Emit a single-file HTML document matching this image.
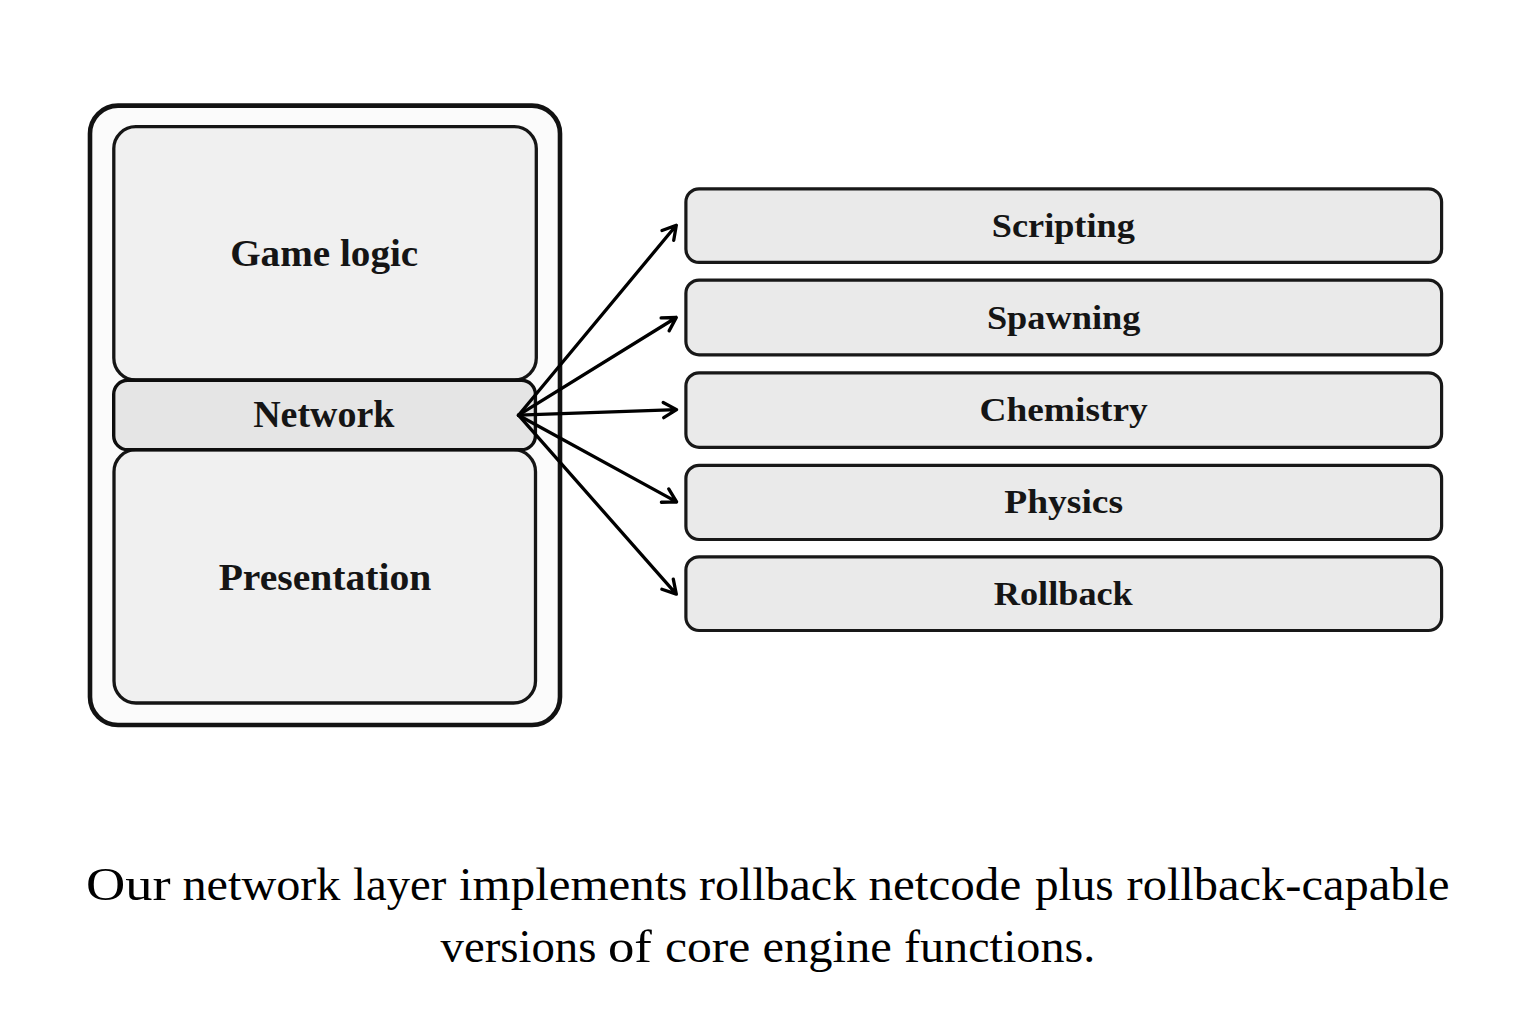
<!DOCTYPE html>
<html><head><meta charset="utf-8">
<style>
html,body{margin:0;padding:0;background:#fff;}
body{width:1536px;height:1024px;overflow:hidden;}
svg{display:block;}
.lbl{font-family:"Liberation Serif",serif;font-weight:bold;fill:#151515;}
.cap{font-family:"Liberation Serif",serif;fill:#000;}
</style></head><body>
<svg width="1536" height="1024" viewBox="0 0 1536 1024">
<rect x="0" y="0" width="1536" height="1024" fill="#fff"/>
<rect x="90" y="105.6" width="470" height="619.4" rx="28" ry="28" fill="#fbfbfb" stroke="#121212" stroke-width="4.6"/>
<rect x="113.8" y="126.6" width="422.5" height="253.4" rx="22" ry="22" fill="#f0f0f0" stroke="#151515" stroke-width="3.3"/>
<rect x="114" y="449.7" width="421.5" height="253.3" rx="22" ry="22" fill="#f0f0f0" stroke="#151515" stroke-width="3.3"/>
<rect x="113.7" y="380.3" width="421.7" height="69.4" rx="14" ry="14" fill="#e5e5e5" stroke="#0d0d0d" stroke-width="3.4"/>
<g fill="#eaeaea" stroke="#181818" stroke-width="3.2">
<rect x="685.9" y="188.8" width="755.7" height="73.6" rx="13.2" ry="13.2"/>
<rect x="685.9" y="280.1" width="755.7" height="74.7" rx="13.2" ry="13.2"/>
<rect x="685.9" y="372.8" width="755.7" height="74.5" rx="13.2" ry="13.2"/>
<rect x="685.9" y="465.3" width="755.7" height="74.2" rx="13.2" ry="13.2"/>
<rect x="685.9" y="556.8" width="755.7" height="73.7" rx="13.2" ry="13.2"/>
</g>
<g stroke="#000" stroke-width="3.3" stroke-linecap="round" stroke-linejoin="round" fill="none">
<path d="M518.5 415.2 L676.3 225.3 M673.73 240.28 L676.3 225.3 L662.04 230.57"/>
<path d="M518.5 415.2 L676.3 317.5 M669.11 330.89 L676.3 317.5 L661.11 317.97"/>
<path d="M518.5 415.2 L676.6 409.6 M663.71 417.66 L676.6 409.6 L663.18 402.47"/>
<path d="M518.5 415.2 L676.6 501.9 M661.4 502.23 L676.6 501.9 L668.71 488.91"/>
<path d="M518.5 415.2 L676.3 594.1 M661.89 589.26 L676.3 594.1 L673.29 579.2"/>
</g>
<text class="lbl" x="324.2" y="266" font-size="37" text-anchor="middle" textLength="188.09" lengthAdjust="spacingAndGlyphs">Game logic</text>
<text class="lbl" x="323.8" y="427.1" font-size="37" text-anchor="middle" textLength="141.31" lengthAdjust="spacingAndGlyphs">Network</text>
<text class="lbl" x="325.0" y="589.7" font-size="37" text-anchor="middle" textLength="212.61" lengthAdjust="spacingAndGlyphs">Presentation</text>
<text class="lbl" x="1063.3" y="236.5" font-size="34.3" text-anchor="middle" textLength="143.03" lengthAdjust="spacingAndGlyphs">Scripting</text>
<text class="lbl" x="1063.7" y="328.7" font-size="34.3" text-anchor="middle" textLength="153.59" lengthAdjust="spacingAndGlyphs">Spawning</text>
<text class="lbl" x="1063.6" y="420.9" font-size="34.3" text-anchor="middle" textLength="168.32" lengthAdjust="spacingAndGlyphs">Chemistry</text>
<text class="lbl" x="1063.7" y="512.9" font-size="34.3" text-anchor="middle" textLength="118.79" lengthAdjust="spacingAndGlyphs">Physics</text>
<text class="lbl" x="1063.3" y="605.1" font-size="34.3" text-anchor="middle" textLength="138.93" lengthAdjust="spacingAndGlyphs">Rollback</text>
<text class="cap" x="86.00" y="899.8" font-size="46" textLength="84.64" lengthAdjust="spacingAndGlyphs">Our</text>
<text class="cap" x="182.50" y="899.8" font-size="46" textLength="157.94" lengthAdjust="spacingAndGlyphs">network</text>
<text class="cap" x="353.00" y="899.8" font-size="46" textLength="93.16" lengthAdjust="spacingAndGlyphs">layer</text>
<text class="cap" x="459.00" y="899.8" font-size="46" textLength="228.35" lengthAdjust="spacingAndGlyphs">implements</text>
<text class="cap" x="699.00" y="899.8" font-size="46" textLength="157.11" lengthAdjust="spacingAndGlyphs">rollback</text>
<text class="cap" x="868.50" y="899.8" font-size="46" textLength="152.71" lengthAdjust="spacingAndGlyphs">netcode</text>
<text class="cap" x="1035.00" y="899.8" font-size="46" textLength="78.76" lengthAdjust="spacingAndGlyphs">plus</text>
<text class="cap" x="1126.50" y="899.8" font-size="46" textLength="322.96" lengthAdjust="spacingAndGlyphs">rollback-capable</text>
<text class="cap" x="440.50" y="961.6" font-size="46" textLength="155.94" lengthAdjust="spacingAndGlyphs">versions</text>
<text class="cap" x="608.00" y="961.6" font-size="46" textLength="43.95" lengthAdjust="spacingAndGlyphs">of</text>
<text class="cap" x="665.00" y="961.6" font-size="46" textLength="85.35" lengthAdjust="spacingAndGlyphs">core</text>
<text class="cap" x="762.50" y="961.6" font-size="46" textLength="129.17" lengthAdjust="spacingAndGlyphs">engine</text>
<text class="cap" x="904.00" y="961.6" font-size="46" textLength="191.29" lengthAdjust="spacingAndGlyphs">functions.</text>
</svg>
</body></html>
